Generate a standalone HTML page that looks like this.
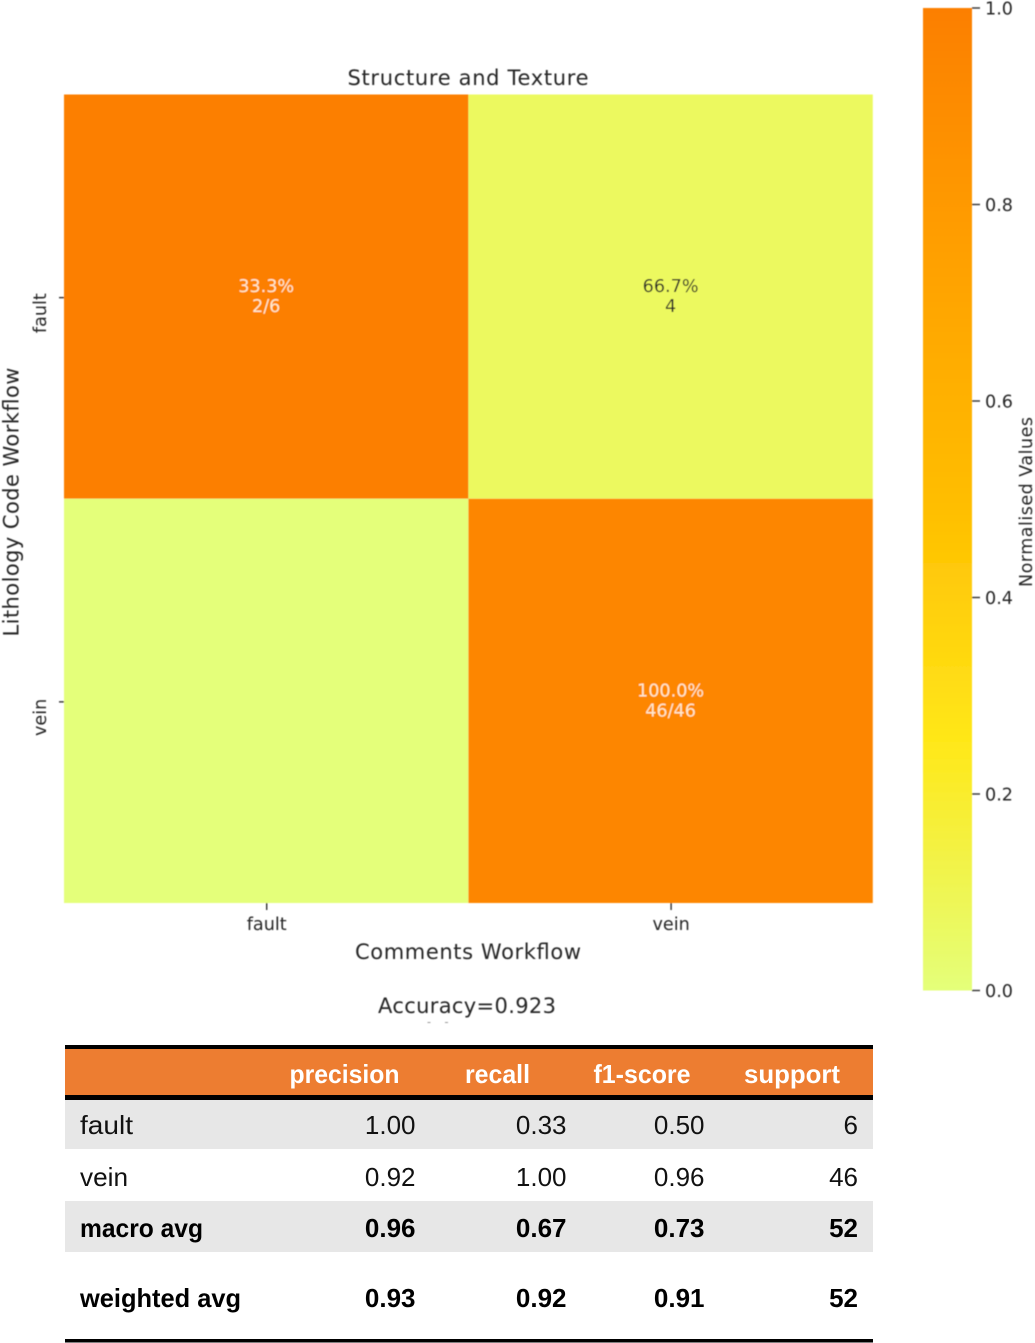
<!DOCTYPE html>
<html>
<head>
<meta charset="utf-8">
<title>Structure and Texture confusion matrix</title>
<style>
html,body{margin:0;padding:0;background:#fff;width:1035px;height:1343px;overflow:hidden}
svg{display:block}
.c{font-family:"DejaVu Sans",sans-serif;fill:#262626}
.t{font-family:"Liberation Sans",sans-serif;font-size:26px;fill:#111}
.b{font-weight:bold;fill:#000}
</style>
</head>
<body>
<svg id="fig" xmlns="http://www.w3.org/2000/svg" width="1035" height="1343" viewBox="0 0 1035 1343">
<defs>
<linearGradient id="cbar-gradient" x1="0" y1="1" x2="0" y2="0"></linearGradient>
<filter id="soft" x="-5%" y="-5%" width="110%" height="110%"><feGaussianBlur stdDeviation="0.4"/></filter>
</defs>
<g id="chart" filter="url(#soft)"></g>
<g id="table"></g>
</svg>
<script>
// Chart data
const categories = ['fault', 'vein'];
const cellValues = [[1.0, 0.07], [0.0, 0.95]];
const cellPercents = [['33.3%', '66.7%'], ['', '100.0%']];
const cellCounts = [['2/6', '4'], ['', '46/46']];
const cellTextDark = [[false, true], [false, false]];
const colorTicks = [0.0, 0.2, 0.4, 0.6, 0.8, 1.0];
const colormapStops = [0, 0.25, 0.5, 0.75, 1];
const colormapColors = ['#e4ff7a', '#ffe81a', '#ffbd00', '#ffa000', '#fc7f00'];
// Table data
const tableHeaders = ['precision', 'recall', 'f1-score', 'support'];
const tableRows = ['fault', 'vein', 'macro avg', 'weighted avg'];
const precisionValues = ['1.00', '0.92', '0.96', '0.93'];
const recallValues = ['0.33', '1.00', '0.67', '0.92'];
const f1Values = ['0.50', '0.96', '0.73', '0.91'];
const supportValues = ['6', '46', '52', '52'];

const NS = 'http://www.w3.org/2000/svg';
const chart = document.getElementById('chart');
const table = document.getElementById('table');

function mk(parent, tag, attrs, txt) {
  const el = document.createElementNS(NS, tag);
  for (const k in attrs) el.setAttribute(k, attrs[k]);
  if (txt !== undefined) el.textContent = txt;
  parent.appendChild(el);
  return el;
}
function hexToRgb(h) {
  return [1, 3, 5].map(i => parseInt(h.substr(i, 2), 16));
}
function colormap(v) {
  const x = Math.max(0, Math.min(1, v));
  for (let i = 0; i < colormapStops.length - 1; i++) {
    if (x <= colormapStops[i + 1]) {
      const t = (x - colormapStops[i]) / (colormapStops[i + 1] - colormapStops[i]);
      const a = hexToRgb(colormapColors[i]);
      const b = hexToRgb(colormapColors[i + 1]);
      return 'rgb(' + a.map((c, j) => Math.round(c + (b[j] - c) * t)).join(',') + ')';
    }
  }
  return colormapColors[colormapColors.length - 1];
}

// Axis functions
const plotLeft = 64, plotTop = 94.5, plotWidth = 808.8, plotHeight = 808.5;
const cellW = plotWidth / categories.length;
const cellH = plotHeight / categories.length;
function xBand(i) { return plotLeft + i * cellW; }
function yBand(i) { return plotTop + i * cellH; }
const cbarTop = 8, cbarBottom = 990.5, cbarLeft = 923, cbarRight = 972;
function cbarY(v) { return cbarBottom - v * (cbarBottom - cbarTop); }

// Heatmap
let el;
el = mk(chart, 'text', {x: 468, y: 85, 'text-anchor': 'middle', 'font-size': 21, textLength: 241, class: 'c'}, 'Structure and Texture');



categories.forEach((rowName, r) => {
  categories.forEach((colName, c) => {
    const rect = mk(chart, 'rect', {x: xBand(c), y: yBand(r), width: cellW, height: cellH, fill: colormap(cellValues[r][c])});
    
    
  });
});
categories.forEach((rowName, r) => {
  categories.forEach((colName, c) => {
    if (!cellPercents[r][c]) return;
    const cx = xBand(c) + cellW / 2;
    const cy = yBand(r) + cellH / 2;
    const col = cellTextDark[r][c] ? '#2a2a2a' : '#ffe9cc';
    const p = mk(chart, 'text', {x: cx, y: cy - 4.5, 'text-anchor': 'middle', 'font-size': 17.6, class: 'c', style: 'fill:' + col}, cellPercents[r][c]);
    
    
    const n = mk(chart, 'text', {x: cx, y: cy + 15.5, 'text-anchor': 'middle', 'font-size': 17.6, class: 'c', style: 'fill:' + col}, cellCounts[r][c]);
    
    
  });
});

// Category axes
categories.forEach((name, i) => {
  const x = xBand(i) + cellW / 2;
  const y = yBand(i) + cellH / 2;
  const xt = mk(chart, 'line', {x1: x + 0.5, x2: x + 0.5, y1: 903, y2: 910, stroke: '#333', 'stroke-width': 1.4});
  
  
  const xl = mk(chart, 'text', {x: x + 0.5, y: 930, 'text-anchor': 'middle', 'font-size': 17.6, class: 'c'}, name);
  
  
  const yt = mk(chart, 'line', {x1: 59, x2: 64, y1: y + 1, y2: y + 1, stroke: '#333', 'stroke-width': 1.4});
  
  
  const yl = mk(chart, 'text', {transform: 'translate(46 ' + (y + 16.5) + ') rotate(-90)', 'text-anchor': 'middle', 'font-size': 17.6, class: 'c'}, name);
  
  
});

el = mk(chart, 'text', {x: 468, y: 959, 'text-anchor': 'middle', 'font-size': 21, textLength: 226, class: 'c'}, 'Comments Workflow');


el = mk(chart, 'text', {transform: 'translate(18.5 502) rotate(-90)', 'text-anchor': 'middle', 'font-size': 21, textLength: 269, class: 'c'}, 'Lithology Code Workflow');


el = mk(chart, 'text', {x: 467, y: 1013, 'text-anchor': 'middle', 'font-size': 21, textLength: 178, class: 'c'}, 'Accuracy=0.923');


el = mk(chart, 'rect', {x: 427.5, y: 1022, width: 3, height: 1, fill: '#999'});


el = mk(chart, 'rect', {x: 445, y: 1022, width: 3, height: 1, fill: '#999'});



// Colorbar
const grad = document.getElementById('cbar-gradient');
colormapStops.forEach((s, i) => {
  mk(grad, 'stop', {offset: s, 'stop-color': colormapColors[i]});
});
el = mk(chart, 'rect', {x: cbarLeft, y: cbarTop, width: cbarRight - cbarLeft, height: cbarBottom - cbarTop, fill: 'url(#cbar-gradient)'});


colorTicks.forEach(v => {
  const y = cbarY(v);
  const t = mk(chart, 'line', {x1: cbarRight, x2: cbarRight + 8, y1: y, y2: y, stroke: '#333', 'stroke-width': 1.4});
  
  
  const l = mk(chart, 'text', {x: 985, y: y + 6.5, 'font-size': 17.6, class: 'c'}, v.toFixed(1));
  
  
});
el = mk(chart, 'text', {transform: 'translate(1032 502) rotate(-90)', 'text-anchor': 'middle', 'font-size': 17.5, textLength: 170, class: 'c'}, 'Normalised Values');



// Table
const tableLeft = 65, tableWidth = 808;
const headerRight = [399.5, 530, 690.5, 840];
const headerWidth = [110, 65, 97, 96];
const labelWidth = [53, 48, 123, 161];
const columnRight = [415.5, 566.5, 704.5, 858];
const rowTop = [1100, 1149, 1201, 1252];
const rowBottom = [1149, 1201, 1252, 1339];
const rowBaseline = [1134, 1186, 1237, 1307];
const rowFill = ['#e7e7e7', '#ffffff', '#e7e7e7', '#ffffff'];
const rowBold = [false, false, true, true];
const columns = [precisionValues, recallValues, f1Values, supportValues];

el = mk(table, 'rect', {x: tableLeft, y: 1049, width: tableWidth, height: 46, fill: '#ed7d31'});


tableHeaders.forEach((h, i) => {
  const t = mk(table, 'text', {x: headerRight[i], y: 1083, 'text-anchor': 'end', textLength: headerWidth[i], lengthAdjust: 'spacingAndGlyphs', class: 't b', style: 'fill:#fff'}, h);
  
  
});
tableRows.forEach((name, r) => {
  const bg = mk(table, 'rect', {x: tableLeft, y: rowTop[r], width: tableWidth, height: rowBottom[r] - rowTop[r], fill: rowFill[r]});
  
  
  const cls = rowBold[r] ? 't b' : 't';
  const lab = mk(table, 'text', {x: 80, y: rowBaseline[r], textLength: labelWidth[r], lengthAdjust: 'spacingAndGlyphs', class: cls}, name);
  
  
  columns.forEach((col, c) => {
    const t = mk(table, 'text', {x: columnRight[c], y: rowBaseline[r], 'text-anchor': 'end', class: cls}, col[r]);
    
    
  });
});
[[1045, 4], [1095, 5], [1339, 3.5]].forEach(b => {
  const line = mk(table, 'rect', {x: tableLeft, y: b[0], width: tableWidth, height: b[1], fill: '#000'});
  
  
});
</script>
</body>
</html>
